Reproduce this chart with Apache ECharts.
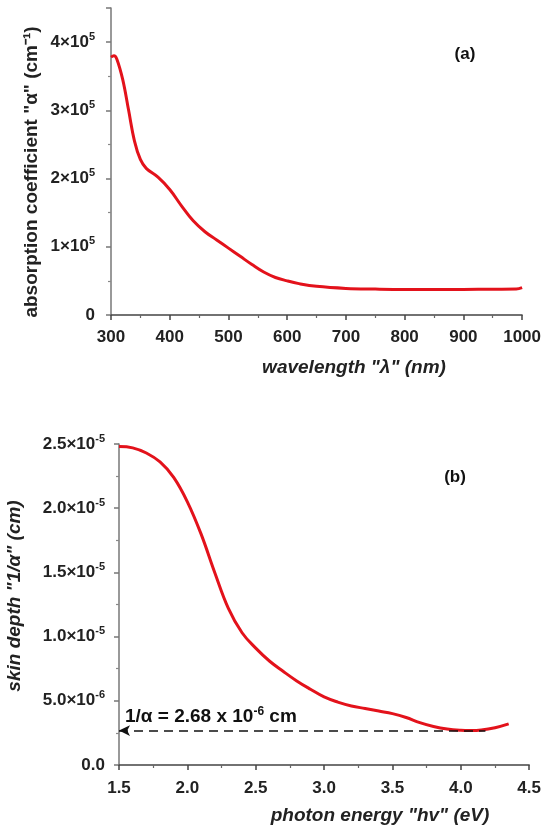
<!DOCTYPE html>
<html><head><meta charset="utf-8">
<script src="https://cdn.jsdelivr.net/npm/echarts@6/dist/echarts.min.js"></script>
<style>html,body{margin:0;padding:0;background:#fff}#c{width:544px;height:833px}</style>
</head><body><div id="c"></div>
<script>
// ---- Panel (a): absorption coefficient vs wavelength ----
const wavelength = [300,305,310,320,330,340,350,360,380,400,420,440,460,480,500,520,540,560,580,600,620,650,700,750,800,850,900,950,990,1000];
const absorption = [3.78e5,3.80e5,3.75e5,3.45e5,3.0e5,2.55e5,2.28e5,2.15e5,2.02e5,1.84e5,1.60e5,1.38e5,1.22e5,1.10e5,0.98e5,0.86e5,0.74e5,0.63e5,0.55e5,0.50e5,0.46e5,0.42e5,0.39e5,0.38e5,0.375e5,0.375e5,0.375e5,0.378e5,0.38e5,0.40e5];
const yMantA = ['0','1×10','2×10','3×10','4×10'];
const yExpA  = ['','5','5','5','5'];

// ---- Panel (b): skin depth vs photon energy ----
const photonEnergy = [1.50,1.60,1.70,1.80,1.90,2.00,2.10,2.20,2.30,2.40,2.50,2.60,2.70,2.80,2.90,3.00,3.10,3.20,3.30,3.40,3.50,3.60,3.70,3.80,3.90,4.00,4.07,4.15,4.25,4.35];
const skinDepth = [2.48e-5,2.47e-5,2.43e-5,2.36e-5,2.24e-5,2.05e-5,1.80e-5,1.50e-5,1.22e-5,1.03e-5,0.91e-5,0.81e-5,0.73e-5,0.655e-5,0.59e-5,0.53e-5,0.49e-5,0.46e-5,0.44e-5,0.42e-5,0.40e-5,0.37e-5,0.33e-5,0.30e-5,0.28e-5,0.27e-5,0.268e-5,0.272e-5,0.29e-5,0.32e-5];
const yMantB = ['0.0','5.0×10','1.0×10','1.5×10','2.0×10','2.5×10'];
const yExpB  = ['','-6','-5','-5','-5','-5'];
const minDepth = 2.68e-6;
const minDepthEnd = 4.18;

const FF = '"Liberation Sans", Arial, sans-serif';
const RED = '#e3121b';
const richLab = {
  m: {fontSize: 17, fontWeight: 'bold', fontFamily: FF, color: '#222', lineHeight: 22},
  s: {fontSize: 11, fontWeight: 'bold', fontFamily: FF, color: '#222', lineHeight: 12, verticalAlign: 'top'}
};
function supLabel(m, e) { return e ? '{m|' + m + '}{s|' + e + '}' : '{m|' + m + '}'; }

const chart = echarts.init(document.getElementById('c'), null, {renderer: 'canvas'});

const axisX = (idx, min, max, interval, fmt, margin) => ({
  type: 'value', gridIndex: idx, min, max, interval,
  axisLine: {show: true, lineStyle: {color: '#444', width: 1.5}},
  axisTick: {show: true, length: 5, lineStyle: {color: '#444', width: 1.5}},
  minorTick: {show: true, splitNumber: 2, length: 3, lineStyle: {color: '#666', width: 1.2}},
  splitLine: {show: false},
  axisLabel: {margin, fontSize: 17, fontWeight: 'bold', fontFamily: FF, color: '#222', formatter: fmt}
});
const axisY = (idx, min, max, interval, fmt, margin) => ({
  type: 'value', gridIndex: idx, min, max, interval,
  axisLine: {show: true, lineStyle: {color: '#777', width: 1.5}},
  axisTick: {show: true, length: 5, lineStyle: {color: '#777', width: 1.5}},
  minorTick: {show: true, splitNumber: 2, length: 3, lineStyle: {color: '#888', width: 1.2}},
  splitLine: {show: false},
  axisLabel: {margin, showMaxLabel: true, formatter: fmt, rich: richLab}
});

const yA = axisY(0, 0, 4.5e5, 1e5, function (v) {
  const k = Math.round(v / 1e5);
  if (Math.abs(v - k * 1e5) > 1 || k >= yMantA.length) return '';
  return supLabel(yMantA[k], yExpA[k]);
}, 16);
const yB = axisY(1, 0, 2.5e-5, 5e-6, function (v) {
  const k = Math.round(v / 5e-6);
  if (Math.abs(v - k * 5e-6) > 1e-9 || k >= yMantB.length) return '';
  return supLabel(yMantB[k], yExpB[k]);
}, 14);

chart.setOption({
  animation: false,
  backgroundColor: '#fff',
  grid: [
    {left: 111, top: 8, width: 412, height: 307},
    {left: 119, top: 444, width: 411, height: 321}
  ],
  xAxis: [
    axisX(0, 300, 1000, 100, v => String(v), 14),
    axisX(1, 1.5, 4.5, 0.5, v => v.toFixed(1), 15)
  ],
  yAxis: [yA, yB],
  series: [
    {
      type: 'line', xAxisIndex: 0, yAxisIndex: 0, smooth: 0.4, showSymbol: false,
      lineStyle: {color: RED, width: 3}, data: wavelength.map((w, i) => [w, absorption[i]])
    },
    {
      type: 'line', xAxisIndex: 1, yAxisIndex: 1, smooth: 0.4, showSymbol: false,
      lineStyle: {color: RED, width: 3}, data: photonEnergy.map((e, i) => [e, skinDepth[i]]),
      markLine: {
        silent: true, animation: false,
        symbol: ['arrow', 'none'], symbolSize: [8, 11],
        lineStyle: {type: [9, 6], color: '#111', width: 1.6},
        label: {
          show: true, position: 'insideStartTop', distance: [6, 2],
          formatter: '{t|1/α = 2.68 x 10}{s|-6}{t| cm}',
          rich: {
            t: {fontSize: 19, fontWeight: 'bold', fontFamily: FF, color: '#111', lineHeight: 23},
            s: {fontSize: 12, fontWeight: 'bold', fontFamily: FF, color: '#111', lineHeight: 13, verticalAlign: 'top'}
          }
        },
        data: [[{coord: [1.5, minDepth]}, {coord: [minDepthEnd, minDepth]}]]
      }
    }
  ],
  graphic: [
    {type: 'text', x: 465, y: 54, style: {text: '(a)', font: 'bold 17px ' + FF, fill: '#111', textAlign: 'center', textVerticalAlign: 'middle'}},
    {type: 'text', x: 455, y: 477, style: {text: '(b)', font: 'bold 17px ' + FF, fill: '#111', textAlign: 'center', textVerticalAlign: 'middle'}},
    {type: 'text', x: 354, y: 368, style: {text: 'wavelength "λ" (nm)', font: 'italic bold 19px ' + FF, fill: '#222', textAlign: 'center', textVerticalAlign: 'middle'}},
    {type: 'text', x: 32, y: 172, rotation: Math.PI / 2, style: {text: 'absorption coefficient "α" (cm⁻¹)', font: 'bold 19px ' + FF, fill: '#222', textAlign: 'center', textVerticalAlign: 'middle'}},
    {type: 'text', x: 380, y: 816, style: {text: 'photon energy "hv" (eV)', font: 'italic bold 19px ' + FF, fill: '#222', textAlign: 'center', textVerticalAlign: 'middle'}},
    {type: 'text', x: 15, y: 596, rotation: Math.PI / 2, style: {text: 'skin depth "1/α" (cm)', font: 'italic bold 19px ' + FF, fill: '#222', textAlign: 'center', textVerticalAlign: 'middle'}}
  ]
});
</script></body></html>
